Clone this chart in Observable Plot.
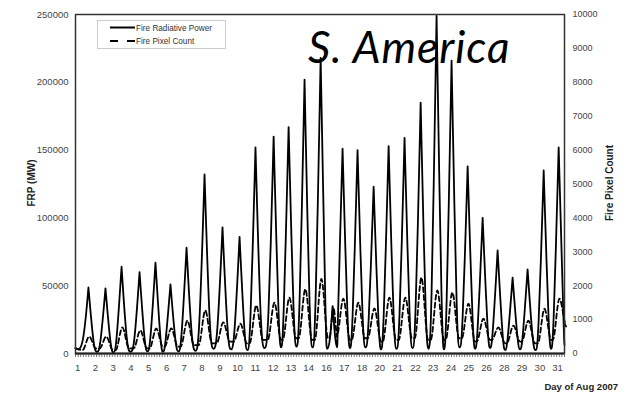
<!DOCTYPE html>
<html>
<head>
<meta charset="utf-8">
<script src="https://cdn.jsdelivr.net/npm/d3@7"></script>
<script src="https://cdn.jsdelivr.net/npm/@observablehq/plot@0.6"></script>
<style>
  html, body { margin: 0; padding: 0; background: #fff; }
  #wrap { position: relative; width: 631px; height: 394px; overflow: hidden; font-family: "Liberation Sans", Arial, sans-serif; }
  .ylab { position: absolute; font-weight: bold; font-size: 10px; color: #222; white-space: nowrap; transform: translate(-50%, -50%) rotate(-90deg); }
  #xlab { position: absolute; right: 13px; top: 381px; font-weight: bold; font-size: 9.5px; color: #222; white-space: nowrap; }
  #title { position: absolute; left: 308px; top: 24px; font-family: Lato, "Open Sans", sans-serif; font-style: italic; font-size: 44px; letter-spacing: 1px; line-height: 1; color: #000; white-space: nowrap; }
  #legend { position: absolute; left: 97px; top: 20px; }
</style>
</head>
<body>
<div id="wrap"></div>
<script>
// Day-of-August tick labels (as printed) and their positions (days from start of Aug 1)
const tickLabels = ["1","2","3","4","5","6","7","8","9","10","11","12","13","14","16","17","18","20","21","22","23","24","25","26","28","29","30","31"];
const tickDays = [0.13,1.26,2.38,3.51,4.64,5.77,6.89,8.02,9.15,10.27,11.40,12.53,13.66,14.78,15.91,17.04,18.16,19.29,20.42,21.55,22.67,23.80,24.93,26.05,27.18,28.31,29.44,30.56];

// Daily peaks (time in days since Aug 1 00:00)
const peakDay = [0.82,1.90,2.92,4.06,5.07,6.02,7.04,8.18,9.32,10.40,11.41,12.56,13.51,14.52,15.54,16.30,16.93,17.88,18.90,19.85,20.86,21.88,22.89,23.84,24.86,25.81,26.76,27.71,28.66,29.68,30.63];

// Fire Radiative Power (MW): start, daily peaks, troughs between peaks, end
const frpStart = 4000;
const frpPeak = [48700,48000,64000,60000,67000,51000,78000,132000,93000,86000,152000,160000,167000,202000,218000,35000,151000,150000,123000,153000,159000,185000,249000,216000,138000,100000,76000,56000,62000,135000,152000];
const frpLow  = [800,1200,800,1200,1500,1200,1500,2000,3500,3000,2500,4000,4500,5000,4500,3500,4500,4000,4500,3000,3500,4000,3500,3000,4500,3500,4000,2500,3000,2500,3500,6000];
const frpEnd = 6000;

// Fire Pixel Count: start, daily peaks, troughs between peaks, end
const countStart = 150;
const countPeak = [500,500,770,680,740,740,970,1270,920,880,1420,1500,1650,1900,2200,1350,1620,1500,1330,1650,1650,2240,1860,1800,1470,1030,770,820,970,1320,1620];
const countLow  = [100,150,100,150,150,200,200,250,300,350,300,400,400,450,400,450,500,400,450,350,400,450,400,400,450,350,400,300,350,300,400,800];
const countEnd = 900;

// Axis ticks
const frpTicks = [0,50000,100000,150000,200000,250000];
const countTicks = [0,1000,2000,3000,4000,5000,6000,7000,8000,9000,10000];
const countToFrp = 25; // right axis 10000 aligns with left 250000

// FRP line: sharp peaks (repeated control point) with rounded troughs (basis curve)
const frpPts = [{t: 0, v: frpStart}];
peakDay.forEach((t, i) => {
  const w = i === 15 ? 0.2 : 0.35;
  frpPts.push({t: t - w, v: frpLow[i]});
  for (let k = 0; k < 3; k++) frpPts.push({t: t, v: frpPeak[i]});
  frpPts.push({t: t + w, v: frpLow[i + 1]});
  if (i < peakDay.length - 1) frpPts.push({t: (t + peakDay[i + 1]) / 2, v: frpLow[i + 1]});
});
frpPts.push({t: 31, v: frpEnd});

// Pixel count line: broad humps
const countPts = [{t: 0, v: countStart}];
peakDay.forEach((t, i) => {
  const w = i === 15 ? 0.25 : 0.42;
  countPts.push({t: t + 0.05 - w, v: countLow[i]});
  countPts.push({t: t + 0.05, v: countPeak[i]});
  countPts.push({t: t + 0.05 + w, v: countLow[i + 1]});
});
countPts.push({t: 31, v: countEnd});

const minorTicks = d3.range(0, 31.001, 1 / 6);

const chart = Plot.plot({
  width: 631,
  height: 394,
  marginLeft: 75,
  marginRight: 67,
  marginTop: 14,
  marginBottom: 41,
  style: {fontFamily: '"Liberation Sans", Arial, sans-serif', fontSize: "9.5px", color: "#444", background: "white", overflow: "visible"},
  x: {domain: [0, 31]},
  y: {domain: [0, 250000]},
  marks: [
    Plot.axisY({ticks: frpTicks, tickSize: 0, tickPadding: 7, tickFormat: d => String(d), label: null}),
    Plot.axisY(countTicks.map(v => v * countToFrp), {anchor: "right", tickSize: 0, tickPadding: 8, fontSize: 9, tickFormat: d => String(Math.round(d / countToFrp)), label: null}),
    Plot.axisX({ticks: tickDays, tickSize: 0, tickPadding: 11, tickFormat: d => tickLabels[tickDays.indexOf(d)], label: null}),
    Plot.axisX({ticks: minorTicks, tickSize: 4, tickFormat: () => "", label: null, stroke: "#555", strokeWidth: 0.8}),
    Plot.line(countPts, {x: "t", y: d => d.v * countToFrp, stroke: "#000", strokeWidth: 1.8, strokeDasharray: "5,3", curve: "monotone-x"}),
    Plot.line(frpPts, {x: "t", y: "v", stroke: "#000", strokeWidth: 1.8, curve: "basis"}),
    Plot.frame({stroke: "#333", strokeWidth: 1.5}),
    Plot.ruleY([0], {stroke: "#222", strokeWidth: 2})
  ]
});

const wrap = document.getElementById("wrap");
wrap.appendChild(chart);

function addDiv(id, cls, text, style) {
  const d = document.createElement("div");
  if (id) d.id = id;
  if (cls) d.className = cls;
  d.textContent = text;
  Object.assign(d.style, style || {});
  wrap.appendChild(d);
  return d;
}
addDiv(null, "ylab", "FRP (MW)", {left: "31px", top: "183px"});
addDiv(null, "ylab", "Fire Pixel Count", {left: "609px", top: "183px"});
addDiv("xlab", null, "Day of Aug 2007");
addDiv("title", null, "S. America");

// Legend
const legendItems = ["Fire Radiative Power", "Fire Pixel Count"];
const ns = "http://www.w3.org/2000/svg";
const lg = document.createElementNS(ns, "svg");
lg.setAttribute("id", "legend");
lg.setAttribute("width", 130);
lg.setAttribute("height", 30);
lg.innerHTML =
  '<rect x="0.5" y="0.5" width="128" height="28" fill="white" stroke="#ccc" stroke-width="1"/>' +
  '<line x1="13" x2="38" y1="7.5" y2="7.5" stroke="#000" stroke-width="2"/>' +
  '<line x1="13" x2="38" y1="21" y2="21" stroke="#000" stroke-width="2" stroke-dasharray="8,9"/>' +
  '<text x="39" y="10.5" font-size="8.2" fill="#333" font-family="Liberation Sans, Arial, sans-serif">' + legendItems[0] + '</text>' +
  '<text x="39" y="24" font-size="8.2" fill="#333" font-family="Liberation Sans, Arial, sans-serif">' + legendItems[1] + '</text>';
wrap.appendChild(lg);
</script>
</body>
</html>
